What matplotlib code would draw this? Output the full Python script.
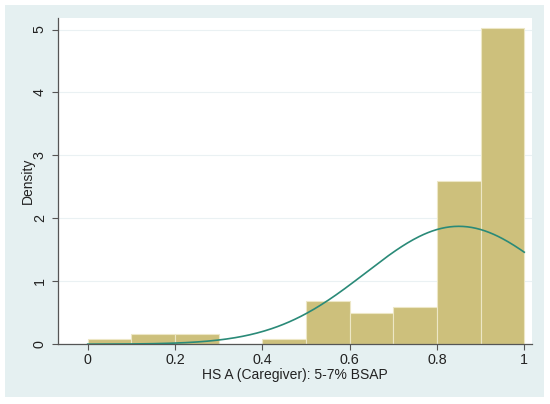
import numpy as np
import matplotlib.pyplot as plt
from matplotlib.patches import Rectangle

plt.rcParams['font.family'] = ['Liberation Sans', 'DejaVu Sans']

# histogram bins (width 0.1) and density heights
bin_edges = [0.0, 0.1, 0.2, 0.3, 0.4, 0.5, 0.6, 0.7, 0.8, 0.9, 1.0]
density = [0.08, 0.16, 0.16, 0.0, 0.08, 0.68, 0.50, 0.59, 2.59, 5.02]

# normal overlay parameters
norm_mean = 0.85
norm_sd = 0.213

x_ticks = [0, 0.2, 0.4, 0.6, 0.8, 1]
x_ticklabels = ["0", "0.2", "0.4", "0.6", "0.8", "1"]
y_ticks = [0, 1, 2, 3, 4, 5]

fig = plt.figure(figsize=(5.5, 4.04), dpi=100)
fig.patch.set_facecolor("white")
bg = Rectangle((0.009, 0.017), 0.98, 0.97, transform=fig.transFigure,
               facecolor="#E5F0F1", edgecolor="none", zorder=-10)
fig.patches.append(bg)

ax = fig.add_axes([0.1055, 0.148, 0.862, 0.807])
ax.set_zorder(5)
ax.set_facecolor("white")

edges = np.array(bin_edges)
ax.bar(edges[:-1], density, width=np.diff(edges), align="edge",
       color="#CDC07C", edgecolor="#EDE7C6", linewidth=0.8, zorder=2)

xs = np.linspace(bin_edges[0], bin_edges[-1], 300)
ys = np.exp(-(xs - norm_mean) ** 2 / (2 * norm_sd ** 2)) / (norm_sd * np.sqrt(2 * np.pi))
ax.plot(xs, ys, color="#2A8A78", linewidth=1.2, zorder=3)

ax.set_xlim(-0.068, 1.018)
ax.set_ylim(0, 5.18)
ax.set_xticks(x_ticks)
ax.set_xticklabels(x_ticklabels)
ax.set_yticks(y_ticks)
ax.set_yticklabels([str(t) for t in y_ticks], rotation=90, va="center")
ax.tick_params(axis="both", labelsize=10.3, color="#555555", length=4,
               width=0.8, labelcolor="#222222")
ax.tick_params(axis="x", pad=2)
ax.tick_params(axis="y", pad=4)

ax.yaxis.grid(True, color="#EAF1F3", linewidth=0.8, zorder=0)
ax.set_axisbelow(True)

for s in ["top", "right"]:
    ax.spines[s].set_visible(False)
for s in ["left", "bottom"]:
    ax.spines[s].set_color("#555555")
    ax.spines[s].set_linewidth(0.9)

ax.set_xlabel("HS A (Caregiver): 5-7% BSAP", fontsize=10, color="#222222", labelpad=1)
ax.set_ylabel("Density", fontsize=10, color="#222222", labelpad=-1.5)

fig.savefig("out.png", dpi=100)
